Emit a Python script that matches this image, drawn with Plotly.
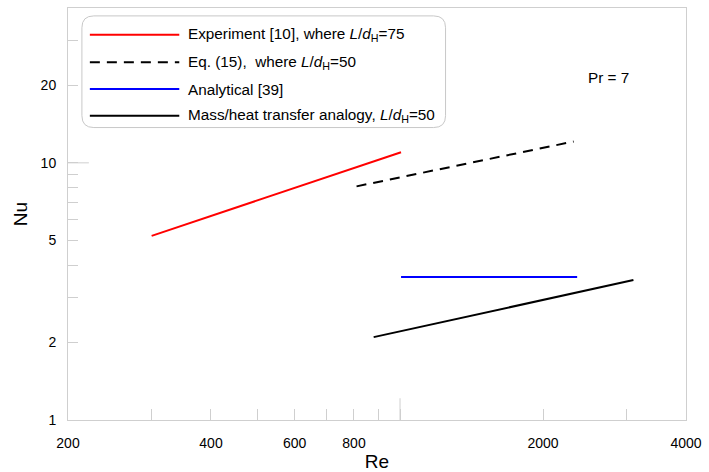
import plotly.graph_objects as go

# ---- data ----
re_exp = [300, 1005]
nu_exp = [5.2, 11.0]
re_eq15 = [810, 2320]
nu_eq15 = [8.1, 12.1]
re_an = [1005, 2360]
nu_an = [3.6, 3.6]
re_mh = [880, 3100]
nu_mh = [2.1, 3.5]

x_tickvals = [200, 300, 400, 500, 600, 700, 800, 900, 1000, 2000, 3000, 4000]
x_ticktext = ["200", "", "400", "", "600", "", "800", "", "", "2000", "", "4000"]
y_tickvals = [1, 2, 3, 4, 5, 6, 7, 8, 9, 10, 20, 30]
y_ticktext = ["1", "2", "", "", "5", "", "", "", "", "10", "20", ""]

legend_labels = [
    "Experiment [10], where <i>L</i>/<i>d</i><sub>H</sub>=75",
    "Eq. (15),  where <i>L</i>/<i>d</i><sub>H</sub>=50",
    "Analytical [39]",
    "Mass/heat transfer analogy, <i>L</i>/<i>d</i><sub>H</sub>=50",
]
legend_colors = ["#ff0000", "#000000", "#0000ff", "#000000"]
legend_dash = ["solid", "10px,7px", "solid", "solid"]

W, H = 709, 472
L, R, T, B = 68, 19, 7, 48
PW, PH = W - L - R, H - T - B
FONT = "Liberation Sans, Arial, sans-serif"
GRID = "#cfcfcf"


def px(x):
    return (x - L) / PW


def py(y):
    return (H - B - y) / PH


fig = go.Figure()
fig.add_trace(go.Scatter(x=re_exp, y=nu_exp, mode="lines",
                         line=dict(color=legend_colors[0], width=2), showlegend=False))
fig.add_trace(go.Scatter(x=re_eq15, y=nu_eq15, mode="lines",
                         line=dict(color=legend_colors[1], width=2, dash=legend_dash[1]), showlegend=False))
fig.add_trace(go.Scatter(x=re_an, y=nu_an, mode="lines",
                         line=dict(color=legend_colors[2], width=2), showlegend=False))
fig.add_trace(go.Scatter(x=re_mh, y=nu_mh, mode="lines",
                         line=dict(color=legend_colors[3], width=2), showlegend=False))

shapes = []
# longer ticks at 10 (y) and 1000 (x)
shapes.append(dict(type="line", xref="paper", yref="y", x0=0, x1=21 / PW, y0=10, y1=10,
                   line=dict(color=GRID, width=1)))
shapes.append(dict(type="line", xref="x", yref="paper", x0=1000, x1=1000, y0=0, y1=22 / PH,
                   line=dict(color=GRID, width=1)))

# custom legend box with rounded corners
bx0, bx1, by0, by1, r = 82, 448, 15, 128, 12
path = (f"M {px(bx0 + r)},{py(by0)} L {px(bx1 - r)},{py(by0)} "
        f"Q {px(bx1)},{py(by0)} {px(bx1)},{py(by0 + r)} "
        f"L {px(bx1)},{py(by1 - r)} Q {px(bx1)},{py(by1)} {px(bx1 - r)},{py(by1)} "
        f"L {px(bx0 + r)},{py(by1)} Q {px(bx0)},{py(by1)} {px(bx0)},{py(by1 - r)} "
        f"L {px(bx0)},{py(by0 + r)} Q {px(bx0)},{py(by0)} {px(bx0 + r)},{py(by0)} Z")
shapes.append(dict(type="path", xref="paper", yref="paper", path=path,
                   line=dict(color="#c8c8c8", width=1), fillcolor="white", layer="above"))

annotations = []
rows = [34, 62, 89, 116]
for i, yy in enumerate(rows):
    shapes.append(dict(type="line", xref="paper", yref="paper", x0=px(90), x1=px(180),
                       y0=py(yy), y1=py(yy), layer="above",
                       line=dict(color=legend_colors[i], width=2, dash=legend_dash[i])))
    annotations.append(dict(xref="paper", yref="paper", x=px(187), y=py(yy), text=legend_labels[i],
                            showarrow=False, xanchor="left", yanchor="middle",
                            font=dict(family=FONT, size=15.3, color="black")))

annotations.append(dict(xref="paper", yref="paper", x=px(612), y=py(77), text="Pr = 7",
                        showarrow=False, xanchor="center", yanchor="middle",
                        font=dict(family=FONT, size=15.3, color="black")))

fig.update_layout(
    width=W, height=H,
    margin=dict(l=L, r=R, t=T, b=B, pad=0),
    paper_bgcolor="white", plot_bgcolor="white",
    font=dict(family=FONT, size=14, color="black"),
    shapes=shapes, annotations=annotations,
    showlegend=False,
)
fig.update_xaxes(type="log", range=[2.30103, 3.60206], tickvals=x_tickvals, ticktext=x_ticktext,
                 ticks="inside", ticklen=11, tickcolor=GRID, showgrid=False, zeroline=False,
                 showline=True, linecolor=GRID, linewidth=1, mirror=True,
                 ticklabelstandoff=10,
                 title=dict(text="Re", font=dict(family=FONT, size=19), standoff=1),
                 tickfont=dict(family=FONT, size=14))
fig.update_yaxes(type="log", range=[0, 1.60206], tickvals=y_tickvals, ticktext=y_ticktext,
                 ticks="inside", ticklen=10, tickcolor=GRID, showgrid=False, zeroline=False,
                 showline=True, linecolor=GRID, linewidth=1, mirror=True,
                 ticklabelstandoff=8,
                 title=dict(text="Nu", font=dict(family=FONT, size=19), standoff=7),
                 tickfont=dict(family=FONT, size=14))

fig.write_html("out.html", config={"displayModeBar": False},
               post_script="document.body.style.margin='0';document.body.style.overflow='hidden';")
